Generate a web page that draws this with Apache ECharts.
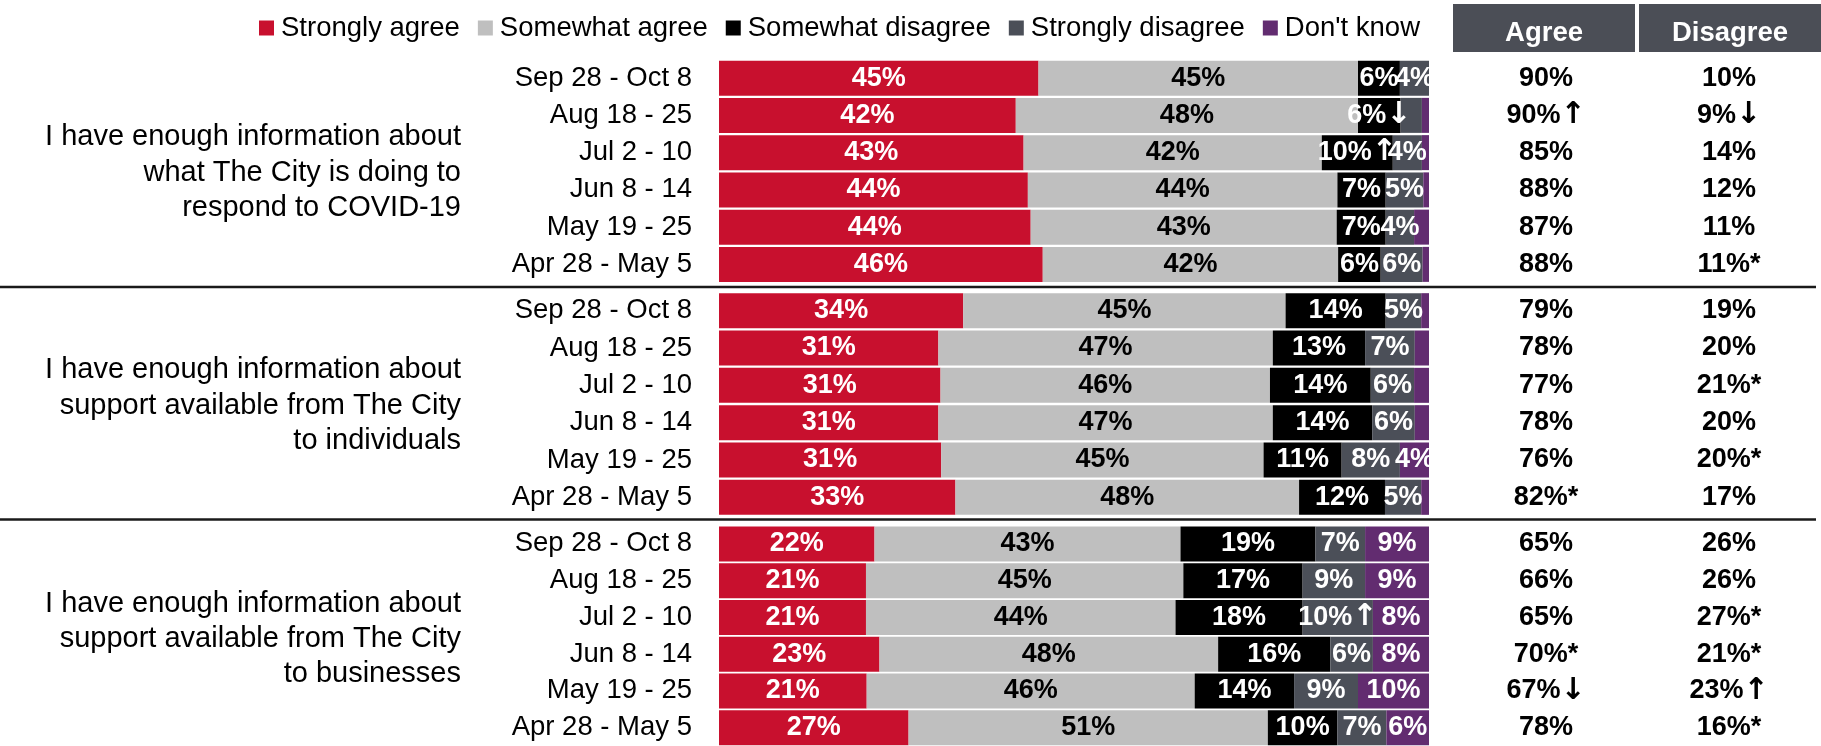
<!DOCTYPE html>
<html>
<head>
<meta charset="utf-8">
<title>City information agreement by survey wave</title>
<script src="https://cdn.jsdelivr.net/npm/echarts/dist/echarts.min.js"></script>
<style>
  html, body { margin: 0; padding: 0; background: #fff; }
  #chart { width: 1821px; height: 746px; }
</style>
</head>
<body>
<div id="chart"></div>
<script>
// survey waves, newest first
const waves = ['Sep 28 - Oct 8', 'Aug 18 - 25', 'Jul 2 - 10', 'Jun 8 - 14', 'May 19 - 25', 'Apr 28 - May 5']

const statements = [
  'I have enough information about\nwhat The City is doing to\nrespond to COVID-19',
  'I have enough information about\nsupport available from The City\nto individuals',
  'I have enough information about\nsupport available from The City\nto businesses',
]

const seriesNames = ['Strongly agree', 'Somewhat agree', 'Somewhat disagree', 'Strongly disagree', "Don't know"]

// one row per statement, one value per wave (%)
const stronglyAgree = [
  [45.0, 41.8, 42.9, 43.5, 43.9, 45.6],
  [34.4, 30.9, 31.2, 30.9, 31.3, 33.3],
  [21.9, 20.7, 20.7, 22.6, 20.8, 26.7],
]
const somewhatAgree = [
  [45.0, 48.2, 42.0, 43.6, 43.1, 41.6],
  [45.4, 47.1, 46.4, 47.1, 45.4, 48.4],
  [43.1, 44.7, 43.6, 47.7, 46.2, 50.6],
]
const somewhatDisagree = [
  [5.9, 6.0, 10.0, 6.8, 6.9, 6.0],
  [14.1, 13.0, 14.2, 14.0, 11.0, 12.1],
  [19.0, 16.8, 17.9, 15.8, 14.0, 9.8],
]
const stronglyDisagree = [
  [4.1, 3.0, 4.1, 5.3, 4.0, 5.9],
  [5.0, 7.0, 6.1, 6.0, 8.2, 5.1],
  [7.0, 8.8, 9.9, 6.0, 9.0, 6.9],
]
const dontKnow = [
  [0, 1.0, 1.0, 0.8, 2.1, 0.9],
  [1.1, 2.0, 2.1, 2.0, 4.1, 1.1],
  [9.0, 9.0, 7.9, 7.9, 10.0, 6.0],
]

// net columns on the right
const agreeTotals = [
  ['90%', '90%↑', '85%', '88%', '87%', '88%'],
  ['79%', '78%', '77%', '78%', '76%', '82%*'],
  ['65%', '66%', '65%', '70%*', '67%↓', '78%'],
]
const disagreeTotals = [
  ['10%', '9%↓', '14%', '12%', '11%', '11%*'],
  ['19%', '20%', '21%*', '20%', '20%*', '17%'],
  ['26%', '26%', '27%*', '21%*', '23%↑', '16%*'],
]

// significant change arrows on segment labels: [statement, wave, segment, arrow]
const segmentArrows = [
  [0, 1, 2, '↓'],
  [0, 2, 2, '↑'],
  [2, 2, 3, '↑'],
]

const colors = ['#c8102e', '#bfbfbf', '#000000', '#4b4f58', '#622c70']
const labelColors = ['#fff', '#000', '#fff', '#fff', '#fff']
const regularFont = '"Liberation Sans", Arial, sans-serif'

const gridTops = [59.5, 292, 525.5]
const gridHeights = [223.5, 224, 224]
const dividers = [287, 519.5]

const chart = echarts.init(document.getElementById('chart'))

const segments = [stronglyAgree, somewhatAgree, somewhatDisagree, stronglyDisagree, dontKnow]
const grid = []
const xAxis = []
const yAxis = []
const series = []
const graphic = []

const hiddenLine = { show: false, onZero: false }
const boldText = { color: '#000', fontSize: 27, fontWeight: 'bold', fontFamily: regularFont }
// arrows drawn a little larger and heavier than the digits
const arrowRich = { a: { fontSize: 30, fontWeight: 'bold', fontFamily: '"DejaVu Sans", sans-serif' } }

// split a label such as "90%↑" so the arrow can use its own style
const richLabel = (s) => s.replace(/([↑↓])/, '{a|$1}')

statements.forEach((text, g) => {
  grid.push({ left: 719, width: 710, top: gridTops[g], height: gridHeights[g] })
  xAxis.push({ type: 'value', gridIndex: g, min: 0, max: 100, show: false })

  // wave labels
  yAxis.push({
    type: 'category',
    gridIndex: g,
    data: waves,
    inverse: true,
    axisLine: hiddenLine,
    axisTick: { show: false },
    axisLabel: { color: '#000', fontSize: 27.5, fontFamily: regularFont, margin: 27 },
  })
  // agree / disagree totals
  ;[[agreeTotals, 117], [disagreeTotals, 300]].forEach(([totals, margin]) => {
    yAxis.push({
      type: 'category',
      gridIndex: g,
      data: waves,
      inverse: true,
      position: 'right',
      axisLine: hiddenLine,
      axisTick: { show: false },
      axisLabel: Object.assign({}, boldText, {
        formatter: (v, i) => richLabel(totals[g][i]),
        align: 'center',
        margin: margin,
        rich: { a: Object.assign({ color: '#000' }, arrowRich.a) },
      }),
    })
  })

  segments.forEach((seg, k) => {
    series.push({
      name: seriesNames[k],
      type: 'bar',
      stack: 'g' + g,
      xAxisIndex: g,
      yAxisIndex: g * 3,
      barWidth: 35,
      silent: true,
      data: seg[g],
      itemStyle: { color: colors[k] },
      label: Object.assign({}, boldText, {
        show: true,
        position: 'inside',
        color: labelColors[k],
        rich: { a: Object.assign({ color: labelColors[k] }, arrowRich.a) },
        formatter: (p) => {
          if (p.value < 3.5) return ''
          const arrow = segmentArrows.find((a) => a[0] === g && a[1] === p.dataIndex && a[2] === k)
          return Math.round(p.value) + '%' + (arrow ? '{a|' + arrow[3] + '}' : '')
        },
      }),
    })
  })

  // statement text left of each block
  graphic.push({
    type: 'text',
    x: 461,
    y: gridTops[g] + gridHeights[g] / 2 + 1.5,
    style: {
      text: text,
      fill: '#000',
      font: '29px ' + regularFont,
      textAlign: 'right',
      textVerticalAlign: 'middle',
      lineHeight: 35.3,
    },
  })
})

dividers.forEach((y) => {
  graphic.push({
    type: 'line',
    shape: { x1: 0, y1: y, x2: 1816, y2: y },
    style: { stroke: '#1a1a1a', lineWidth: 2.5 },
  })
})

// column headers
;[['Agree', 1453, 182], ['Disagree', 1639, 182]].forEach(([name, x, w]) => {
  graphic.push({
    type: 'rect',
    shape: { x: x, y: 4, width: w, height: 48 },
    style: { fill: '#4b4e56' },
  })
  graphic.push({
    type: 'text',
    x: x + w / 2,
    y: 33,
    style: {
      text: name,
      fill: '#fff',
      font: 'bold 27.5px ' + regularFont,
      textAlign: 'center',
      textVerticalAlign: 'middle',
    },
  })
})

chart.setOption({
  animation: false,
  color: colors,
  legend: {
    data: seriesNames,
    left: 254,
    top: 9,
    icon: 'rect',
    itemWidth: 15,
    itemHeight: 15,
    itemGap: 18,
    selectedMode: false,
    textStyle: { color: '#000', fontSize: 27.5, fontFamily: regularFont, padding: [0, 0, 0, 2] },
  },
  grid: grid,
  xAxis: xAxis,
  yAxis: yAxis,
  series: series,
  graphic: graphic,
})

window.addEventListener('resize', () => chart.resize())
</script>
</body>
</html>
